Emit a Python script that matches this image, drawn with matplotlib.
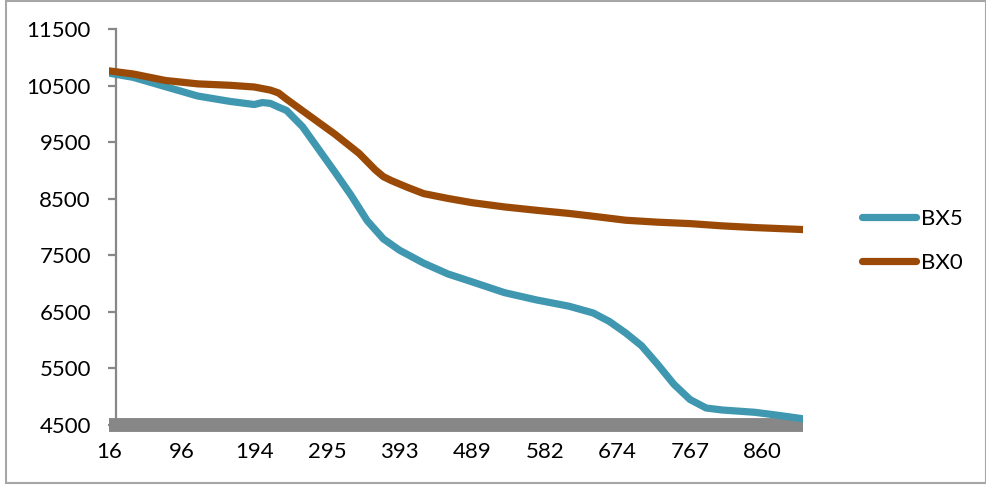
import matplotlib
matplotlib.use("Agg")
import matplotlib.pyplot as plt
from matplotlib.patches import Rectangle
import numpy as np

plt.rcParams['font.family'] = ['Lato', 'DejaVu Sans']

# Category axis: one label every 9 readings
tick_labels = ["16", "96", "194", "295", "393", "489", "582", "674", "767", "860"]
label_step = 9
n_categories = 87

# BX5 readings (category index, value)
bx5_idx = [0, 3, 7, 11, 15, 18, 19, 20, 21, 22, 24, 26, 28, 30, 32, 34, 36, 39,
           42, 45, 49, 53, 57, 60, 62, 64, 66, 68, 70, 72, 74, 76, 80, 83, 86]
bx5_val = [10720, 10645, 10480, 10315, 10220, 10165, 10200, 10185, 10120, 10060,
           9770, 9370, 8970, 8560, 8110, 7790, 7590, 7360, 7170, 7030, 6840, 6710,
           6600, 6480, 6330, 6130, 5900, 5570, 5220, 4950, 4800, 4765, 4725, 4670, 4610]

# BX0 readings (category index, value)
bx0_idx = [0, 3, 7, 11, 15, 18, 20, 21, 22, 25, 28, 31, 33, 34, 35, 37, 39, 42, 45,
           49, 53, 57, 60, 64, 68, 72, 76, 80, 86]
bx0_val = [10760, 10705, 10590, 10530, 10505, 10475, 10420, 10370, 10260, 9950,
           9640, 9300, 9010, 8890, 8820, 8700, 8590, 8505, 8430, 8355, 8295, 8240,
           8190, 8120, 8085, 8060, 8020, 7990, 7955]

y_ticks = [4500, 5500, 6500, 7500, 8500, 9500, 10500, 11500]

teal = "#3F97B0"
brown = "#9A4A06"
axis_gray = "#878787"

fig = plt.figure(figsize=(9.87, 4.88), dpi=100)
ax = fig.add_axes([109 / 987, (488 - 425) / 488, 694 / 987, 396 / 488])

ax.plot(bx5_idx, bx5_val, color=teal, lw=5.2, solid_capstyle='round',
        solid_joinstyle='round', label="BX5", zorder=4)
ax.plot(bx0_idx, bx0_val, color=brown, lw=5.2, solid_capstyle='round',
        solid_joinstyle='round', label="BX0", zorder=4)

ax.set_xlim(0, n_categories - 1)
ax.set_ylim(y_ticks[0], y_ticks[-1])
ax.set_yticks(y_ticks)
ax.set_yticklabels([str(v) for v in y_ticks])
ax.set_xticks(np.arange(len(tick_labels)) * label_step)
ax.set_xticklabels(tick_labels)

for side in ("top", "right"):
    ax.spines[side].set_visible(False)
ax.spines["left"].set_position(("axes", 7 / 694))
ax.spines["left"].set_color(axis_gray)
ax.spines["left"].set_linewidth(1.6)
ax.spines["bottom"].set_color(axis_gray)
ax.spines["bottom"].set_linewidth(10)
ax.spines["bottom"].set_capstyle("butt")
ax.spines["bottom"].set_zorder(3)

ax.tick_params(axis="y", direction="out", length=6, width=1.6, color=axis_gray,
               pad=12, labelsize=16, labelcolor="black")
ax.tick_params(axis="x", length=0, pad=12, labelsize=16, labelcolor="black")

fig.legend(loc="center left", bbox_to_anchor=(862 / 987, 1 - 241 / 488),
           frameon=False, fontsize=16, handlelength=2.45, handletextpad=0.2,
           labelspacing=1.1, borderpad=0, borderaxespad=0)

fig.patches.append(Rectangle((6 / 987, 5 / 488), 980 / 987, 482 / 488,
                             transform=fig.transFigure, fill=False,
                             edgecolor="#A6A6A6", linewidth=1.5))

fig.savefig("out.png", dpi=100)
